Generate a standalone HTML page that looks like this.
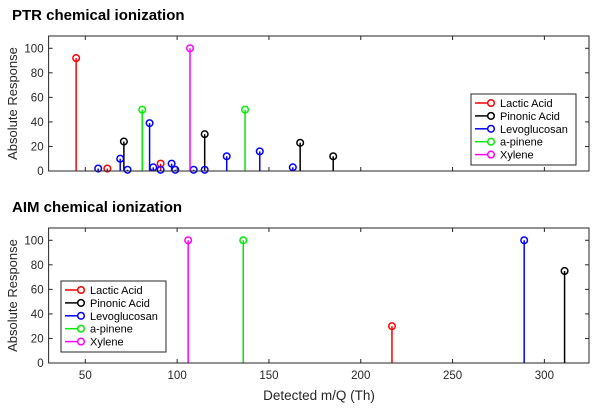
<!DOCTYPE html>
<html><head><meta charset="utf-8"><style>
html,body{margin:0;padding:0;background:#fff;}
svg{display:block;font-family:"Liberation Sans",Arial,sans-serif;}
</style></head><body>
<svg id="chart" width="600" height="412" viewBox="0 0 600 412"></svg>
<script>
const seriesNames = ["Lactic Acid","Pinonic Acid","Levoglucosan","a-pinene","Xylene"];
const seriesColors = ["#ff0000","#000000","#0000ff","#00ee00","#ff00ff"];
// PTR panel data
const ptrLacticX = [45, 62, 91];
const ptrLacticY = [92, 2, 6];
const ptrPinonicX = [71, 115, 167, 185];
const ptrPinonicY = [24, 30, 23, 12];
const ptrLevoX = [57, 69, 73, 85, 87, 91, 97, 99, 109, 115, 127, 145, 163];
const ptrLevoY = [2, 10, 1, 39, 3, 1, 6, 1, 1, 1, 12, 16, 3];
const ptrPineneX = [81, 137];
const ptrPineneY = [50, 50];
const ptrXyleneX = [107];
const ptrXyleneY = [100];
// AIM panel data
const aimLacticX = [217];
const aimLacticY = [30];
const aimPinonicX = [311];
const aimPinonicY = [75];
const aimLevoX = [289];
const aimLevoY = [100];
const aimPineneX = [136];
const aimPineneY = [100];
const aimXyleneX = [106];
const aimXyleneY = [100];
const xTicks = [50, 100, 150, 200, 250, 300];
const yTicks = [0, 20, 40, 60, 80, 100];

const NS = "http://www.w3.org/2000/svg";
const svg = document.getElementById("chart");
const X0 = 48.6, X1 = 589, XMIN = 30, XMAX = 324.3;
function xs(v){ return X0 + (v - XMIN) / (XMAX - XMIN) * (X1 - X0); }
function mk(tag, attrs, parent){
  const e = document.createElementNS(NS, tag);
  for (const k in attrs) e.setAttribute(k, attrs[k]);
  (parent || svg).appendChild(e);
  return e;
}
function panel(key, title, top, bottom, data, legendBox, showXLabels){
  const g = mk("g", {});
  
  
  const ys = v => bottom - v / 110 * (bottom - top);
  const t = mk("text", {x: 12, y: top - 16, "font-size": 15, "font-weight": "bold", fill: "#000"}, g);
  t.textContent = title;
  
  
  yTicks.forEach(v => {
    const y = ys(v);
    mk("line", {x1: X0, x2: X0 + 4, y1: y, y2: y, stroke: "#262626", "stroke-width": 1}, g);
    mk("line", {x1: X1, x2: X1 - 4, y1: y, y2: y, stroke: "#262626", "stroke-width": 1}, g);
    const tl = mk("text", {x: X0 - 5, y: y + 4, "font-size": 11.5, fill: "#262626", "text-anchor": "end"}, g);
    tl.textContent = v;
    
    
  });
  xTicks.forEach(v => {
    const x = xs(v);
    mk("line", {x1: x, x2: x, y1: bottom, y2: bottom - 4, stroke: "#262626", "stroke-width": 1}, g);
    mk("line", {x1: x, x2: x, y1: top, y2: top + 4, stroke: "#262626", "stroke-width": 1}, g);
    if (showXLabels) {
      const tl = mk("text", {x: x, y: bottom + 16, "font-size": 11.5, fill: "#262626", "text-anchor": "middle"}, g);
      tl.textContent = v;
      
      
    }
  });
  const yl = mk("text", {x: 0, y: 0, "font-size": 13, fill: "#262626", "text-anchor": "middle",
    transform: "translate(17," + ((top + bottom) / 2) + ") rotate(-90)"}, g);
  yl.textContent = "Absolute Response";
  
  
  data.forEach((s, i) => {
    s[0].forEach((xv, j) => {
      const x = xs(xv), y = ys(s[1][j]);
      const ln = mk("line", {x1: x, x2: x, y1: bottom, y2: y, stroke: seriesColors[i], "stroke-width": 1.5}, g);
      
      
      const c = mk("circle", {cx: x, cy: y, r: 3.3, fill: "none", stroke: seriesColors[i], "stroke-width": 1.5}, g);
      
      
    });
  });
  const box = mk("rect", {x: X0, y: top, width: X1 - X0, height: bottom - top, fill: "none", stroke: "#262626", "stroke-width": 1}, g);
  
  
  const [lx, ly, lw, lh] = legendBox;
  const lg = mk("g", {}, g);
  
  
  mk("rect", {x: lx, y: ly, width: lw, height: lh, fill: "#fff", stroke: "#262626", "stroke-width": 1}, lg);
  seriesNames.forEach((n, i) => {
    const yy = ly + 9 + i * 12.9;
    const e = mk("g", {}, lg);
    
    
    mk("line", {x1: lx + 4, x2: lx + 20, y1: yy, y2: yy, stroke: seriesColors[i], "stroke-width": 1.5}, e);
    mk("circle", {cx: lx + 20, cy: yy, r: 3.3, fill: "#fff", stroke: seriesColors[i], "stroke-width": 1.5}, e);
    const tx = mk("text", {x: lx + 29, y: yy + 4, "font-size": 11, fill: "#000"}, e);
    tx.textContent = n;
  });
}
panel("ptr", "PTR chemical ionization", 36, 171,
  [[ptrLacticX, ptrLacticY], [ptrPinonicX, ptrPinonicY], [ptrLevoX, ptrLevoY], [ptrPineneX, ptrPineneY], [ptrXyleneX, ptrXyleneY]],
  [471, 94, 105, 71], false);
panel("aim", "AIM chemical ionization", 228, 363,
  [[aimLacticX, aimLacticY], [aimPinonicX, aimPinonicY], [aimLevoX, aimLevoY], [aimPineneX, aimPineneY], [aimXyleneX, aimXyleneY]],
  [61, 281, 105, 71], true);
const xl = mk("text", {x: 319, y: 400, "font-size": 13.5, fill: "#262626", "text-anchor": "middle"});
xl.textContent = "Detected m/Q (Th)";


</script>
</body></html>
